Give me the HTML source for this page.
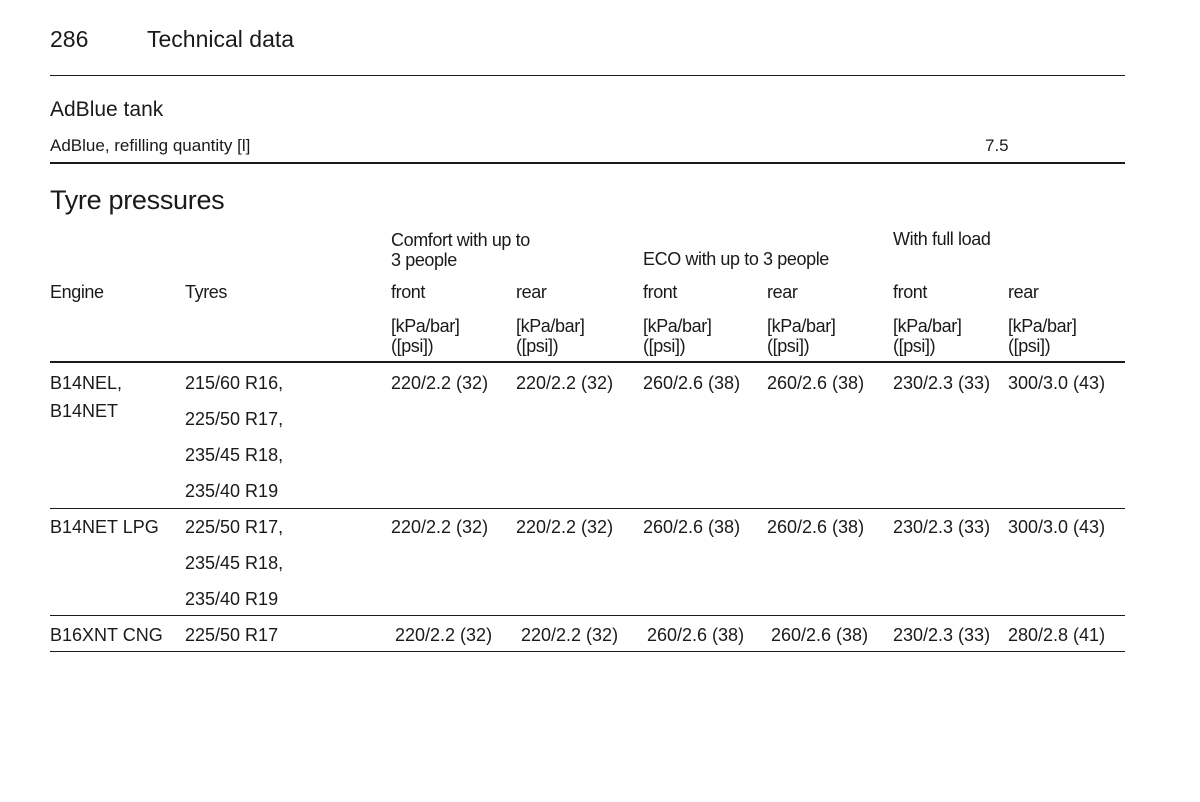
<!DOCTYPE html>
<html><head><meta charset="utf-8">
<style>
body{margin:0;background:#fff;width:1200px;height:802px;position:relative;overflow:hidden;font-family:"Liberation Sans",sans-serif;color:#1a1a1a}
.t{position:absolute;white-space:nowrap;line-height:1}
.b{font-size:18px}
.h{font-size:18px;letter-spacing:-0.4px}
.r{position:absolute;left:50px;width:1075px;background:#1a1a1a}
</style></head><body>
<div class="t" style="left:50px;top:28px;font-size:23px">286</div>
<div class="t" style="left:147px;top:28px;font-size:23px">Technical data</div>
<div class="r" style="top:75px;height:1px"></div>
<div class="t" style="left:50px;top:99px;font-size:21px">AdBlue tank</div>
<div class="t b" style="left:50px;top:137px;font-size:17px">AdBlue, refilling quantity [l]</div>
<div class="t b" style="left:985px;top:137px;font-size:17px">7.5</div>
<div class="r" style="top:162px;height:2px"></div>
<div class="t" style="left:50px;top:187px;font-size:27px;letter-spacing:-0.3px">Tyre pressures</div>

<div class="t h" style="left:391px;top:230px;line-height:20px">Comfort with up to<br>3 people</div>
<div class="t h" style="left:643px;top:250px">ECO with up to 3 people</div>
<div class="t h" style="left:893px;top:230px">With full load</div>
<div class="t h" style="left:50px;top:283px">Engine</div>
<div class="t h" style="left:185px;top:283px">Tyres</div>
<div id="cols"></div>
<div class="r" style="top:361px;height:2px"></div>
<div class="r" style="top:508px;height:1px"></div>
<div class="r" style="top:615px;height:1px"></div>
<div class="r" style="top:651px;height:1px"></div>
<div id="rows"></div>
<script>
const colX=[391,516,643,767,893,1008];
const colLabels=["front","rear","front","rear","front","rear"];
const c=document.getElementById('cols');
colX.forEach((x,i)=>{
  const a=document.createElement('div');a.className='t h';a.style.left=x+'px';a.style.top='283px';a.textContent=colLabels[i];
  
  
  c.appendChild(a);
  const u=document.createElement('div');u.className='t h';u.style.left=x+'px';u.style.top='316px';u.style.lineHeight='20px';u.innerHTML='[kPa/bar]<br>([psi])';
  
  
  c.appendChild(u);
});
const rows=[
 {eng:["B14NEL,","B14NET"],engY:[374,402],tyres:["215/60 R16,","225/50 R17,","235/45 R18,","235/40 R19"],ty:374,vals:["220/2.2 (32)","220/2.2 (32)","260/2.6 (38)","260/2.6 (38)","230/2.3 (33)","300/3.0 (43)"],shift:[0,0,0,0,0,0]},
 {eng:["B14NET LPG"],engY:[518],tyres:["225/50 R17,","235/45 R18,","235/40 R19"],ty:518,vals:["220/2.2 (32)","220/2.2 (32)","260/2.6 (38)","260/2.6 (38)","230/2.3 (33)","300/3.0 (43)"],shift:[0,0,0,0,0,0]},
 {eng:["B16XNT CNG"],engY:[626],tyres:["225/50 R17"],ty:626,vals:["220/2.2 (32)","220/2.2 (32)","260/2.6 (38)","260/2.6 (38)","230/2.3 (33)","280/2.8 (41)"],shift:[4,5,4,4,0,0]}
];
const R=document.getElementById('rows');
rows.forEach(r=>{
  r.eng.forEach((e,i)=>{const d=document.createElement('div');d.className='t b';d.style.left='50px';d.style.top=r.engY[i]+'px';d.textContent=e;
    
    
    R.appendChild(d);});
  r.tyres.forEach((e,i)=>{const d=document.createElement('div');d.className='t b';d.style.left='185px';d.style.top=(r.ty+i*36)+'px';d.textContent=e;
    
    
    R.appendChild(d);});
  r.vals.forEach((v,i)=>{const d=document.createElement('div');d.className='t b';d.style.left=(colX[i]+r.shift[i])+'px';d.style.top=r.ty+'px';d.textContent=v;
    
    
    R.appendChild(d);});
});
</script>
</body></html>
